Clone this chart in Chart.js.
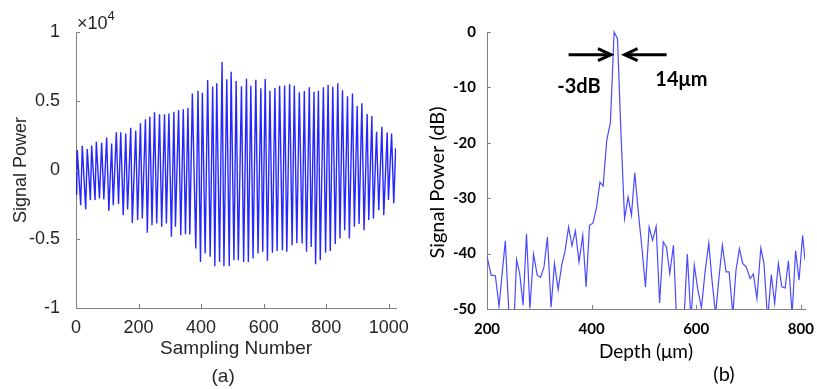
<!DOCTYPE html>
<html>
<head>
<meta charset="utf-8">
<script src="https://cdn.jsdelivr.net/npm/chart.js@4.4.1/dist/chart.umd.min.js"></script>
<style>
  body { margin: 0; background: #fff; }
  #wrap { position: relative; width: 817px; height: 389px; }
  canvas { position: absolute; top: 0; }
</style>
</head>
<body>
<div id="wrap">
  <canvas id="chartA" width="410" height="389" style="left:0"></canvas>
  <canvas id="chartB" width="407" height="389" style="left:410px"></canvas>
</div>
<script>
// (a) interferogram: upper and lower swing of each fringe, in units of 1e4
const peakSamples = [4, 20, 36, 50, 65, 82, 98, 114, 129, 143,
  159, 175, 191, 206, 222, 236, 251, 267, 283, 297,
  313, 328, 343, 358, 372, 390, 404, 421, 437, 450,
  467, 482, 496, 512, 529, 545, 559, 575, 591, 605,
  620, 636, 651, 667, 683, 698, 714, 730, 746, 761,
  775, 791, 806, 821, 837, 852, 868, 884, 899, 914,
  931, 946, 961, 978, 995, 1009, 1022];
const peakValues = [0.144, 0.176, 0.152, 0.178, 0.204, 0.197, 0.236, 0.192, 0.274, 0.274,
  0.265, 0.306, 0.285, 0.338, 0.367, 0.386, 0.418, 0.403, 0.403, 0.41,
  0.422, 0.435, 0.44, 0.451, 0.555, 0.575, 0.56, 0.652, 0.604, 0.628,
  0.783, 0.657, 0.712, 0.645, 0.606, 0.662, 0.611, 0.654, 0.592, 0.659,
  0.575, 0.594, 0.611, 0.613, 0.621, 0.611, 0.563, 0.572, 0.599, 0.567,
  0.575, 0.599, 0.618, 0.604, 0.628, 0.577, 0.534, 0.555, 0.463, 0.483,
  0.405, 0.391, 0.277, 0.314, 0.272, 0.265, 0.157];
const troughSamples = [2, 15, 31, 46, 61, 75, 89, 105, 119, 136,
  151, 165, 180, 197, 212, 228, 243, 258, 274, 289,
  305, 318, 335, 350, 364, 383, 398, 413, 429, 444,
  459, 473, 490, 505, 519, 536, 551, 566, 582, 597,
  612, 628, 643, 660, 674, 691, 706, 723, 737, 752,
  766, 781, 798, 813, 829, 844, 859, 874, 890, 905,
  921, 936, 951, 968, 984, 999, 1016];
const troughValues = [-0.182, -0.255, -0.286, -0.218, -0.218, -0.206, -0.213, -0.296, -0.255, -0.247,
  -0.327, -0.286, -0.383, -0.363, -0.351, -0.455, -0.40, -0.388, -0.412, -0.388,
  -0.484, -0.412, -0.472, -0.465, -0.467, -0.569, -0.666, -0.605, -0.629, -0.697,
  -0.666, -0.697, -0.697, -0.654, -0.654, -0.666, -0.666, -0.642, -0.605, -0.593,
  -0.658, -0.60, -0.586, -0.581, -0.593, -0.545, -0.528, -0.533, -0.593, -0.557,
  -0.683, -0.654, -0.60, -0.586, -0.537, -0.496, -0.436, -0.496, -0.412, -0.392,
  -0.436, -0.363, -0.351, -0.291, -0.327, -0.218, -0.242];
const ticksAX = [0, 200, 400, 600, 800, 1000];
const ticksAY = [-1, -0.5, 0, 0.5, 1];

// (b) depth profile
const depth = [200, 208, 216, 223, 235, 243, 251, 256.5, 262.5, 269,
  275.5, 282, 289, 296, 302.5, 309, 315.5, 322.5, 329, 336,
  343, 349, 356, 362.5, 369, 376, 383, 389.5, 396, 402.5,
  409, 416, 422, 429, 436, 443, 449.5, 456, 463, 469.8,
  476.2, 482.5, 489, 496, 503, 510, 516.6, 523.4, 530, 537,
  543, 549.5, 556.4, 563, 570, 576.5, 583, 590, 596.3, 603,
  610, 617, 624, 630, 637, 643.6, 650, 657, 663, 670,
  676, 682.6, 689, 695.5, 703, 709.3, 716, 723.5, 729.5, 736.5,
  743.5, 750, 757, 763.6, 770, 776.3, 783.3, 790, 796.6, 803.4, 808];
const powerDb = [-40.5, -43.9, -44.0, -49.5, -37.7, -53, -54, -41.1, -43.6, -49.3,
  -36.4, -49.9, -40.1, -43.9, -44.3, -42.4, -37.0, -49.7, -41.8, -46.5,
  -42.0, -39.7, -35.2, -38.6, -35.9, -41.5, -36.7, -46.0, -34.9, -34.5,
  -31.9, -27.1, -27.8, -19.5, -16.3, 0, -1.2, -18, -33.7, -29.8,
  -33.1, -25.4, -32.2, -38.8, -46.0, -35.2, -37.6, -35.1, -48.9, -37.9,
  -38.8, -43.6, -38.5, -53, -55, -52, -40.1, -52, -42.1, -46.5,
  -49.8, -43.2, -38.1, -44.6, -51, -44.2, -38.5, -43.3, -43.3, -51,
  -43.0, -39.1, -41.8, -42.4, -44.5, -43.7, -48.1, -39.0, -41.7, -52,
  -43.8, -49.0, -41.8, -46.0, -46.2, -41.3, -51, -39.5, -44.8, -36.7, -41.2];
const ticksBX = [200, 400, 600, 800];
const ticksBY = [-50, -40, -30, -20, -10, 0];

const pointsA = peakSamples.map((s, i) => ({ x: s, y: peakValues[i] }))
  .concat(troughSamples.map((s, i) => ({ x: s, y: troughValues[i] })))
  .sort((p, q) => p.x - q.x);
const pointsB = depth.map((d, i) => ({ x: d, y: powerDb[i] }));

// small ticks pointing into the plot, like matlab
const innerTicks = {
  id: 'innerTicks',
  afterDatasetsDraw(chart) {
    const ctx = chart.ctx, a = chart.chartArea;
    const sx = chart.scales.x, sy = chart.scales.y;
    ctx.save();
    ctx.strokeStyle = '#808080';
    ctx.lineWidth = 1;
    sx.ticks.forEach(t => {
      const px = Math.round(sx.getPixelForValue(t.value)) + 0.5;
      ctx.beginPath(); ctx.moveTo(px, a.bottom); ctx.lineTo(px, a.bottom - 4); ctx.stroke();
    });
    sy.ticks.forEach(t => {
      const py = Math.round(sy.getPixelForValue(t.value)) + 0.5;
      ctx.beginPath(); ctx.moveTo(a.left, py); ctx.lineTo(a.left + 4, py); ctx.stroke();
    });
    ctx.restore();
  }
};

const textA = {
  id: 'textA',
  afterDraw(chart) {
    const ctx = chart.ctx, a = chart.chartArea;
    ctx.save();
    ctx.fillStyle = '#262626';
    ctx.textBaseline = 'alphabetic';
    ctx.textAlign = 'left';
    ctx.font = '18px "Liberation Sans", Arial, sans-serif';
    ctx.fillText('\u00d710', a.left + 1, 29);
    const w = ctx.measureText('\u00d710').width;
    ctx.font = '13px "Liberation Sans", Arial, sans-serif';
    ctx.fillText('4', a.left + 1 + w, 20);
    ctx.font = '19px "Liberation Sans", Arial, sans-serif';
    ctx.textAlign = 'center';
    ctx.textBaseline = 'middle';
    ctx.fillText('(a)', (a.left + a.right) / 2 - 13, 377);
    ctx.restore();
  }
};

const textB = {
  id: 'textB',
  afterDraw(chart) {
    const ctx = chart.ctx, a = chart.chartArea;
    const sx = chart.scales.x, sy = chart.scales.y;
    ctx.save();
    ctx.fillStyle = '#000';
    ctx.strokeStyle = '#000';
    // y title
    ctx.save();
    ctx.translate(27.5, 182.5);
    ctx.rotate(-Math.PI / 2);
    ctx.font = '20px Lato, sans-serif';
    ctx.textAlign = 'center';
    ctx.textBaseline = 'middle';
    ctx.fillText('Signal Power (dB)', 0, 0);
    ctx.restore();
    // panel label
    ctx.font = '20px Lato, sans-serif';
    ctx.textAlign = 'center';
    ctx.textBaseline = 'middle';
    ctx.fillText('(b)', (a.left + a.right) / 2 + 78, 375);
    // -3 dB width arrows
    const ay = sy.getPixelForValue(-4.1);
    const arrow = (from, to) => {
      const x0 = sx.getPixelForValue(from), x1 = sx.getPixelForValue(to);
      const dir = Math.sign(x1 - x0);
      ctx.lineWidth = 3;
      ctx.lineCap = 'butt';
      ctx.beginPath(); ctx.moveTo(x0, ay); ctx.lineTo(x1 - dir * 2, ay); ctx.stroke();
      ctx.beginPath();
      ctx.moveTo(x1 - dir * 13, ay - 6); ctx.lineTo(x1, ay); ctx.lineTo(x1 - dir * 13, ay + 6);
      ctx.stroke();
    };
    arrow(356, 437);
    arrow(543.5, 463);
    ctx.font = 'bold 20px Lato, sans-serif';
    ctx.fillText('-3dB', sx.getPixelForValue(375.7), sy.getPixelForValue(-9.9));
    ctx.fillText('14\u03bcm', sx.getPixelForValue(571.6), sy.getPixelForValue(-8.5));
    ctx.restore();
  }
};

new Chart(document.getElementById('chartA'), {
  type: 'line',
  data: {
    datasets: [{
      data: pointsA,
      borderColor: 'rgba(0,0,255,0.85)',
      borderWidth: 1.4,
      pointRadius: 0,
      tension: 0,
    }],
  },
  options: {
    responsive: false,
    animation: false,
    events: [],
    layout: { padding: { left: 0, right: 9, top: 32, bottom: 0 } },
    plugins: { legend: { display: false }, tooltip: { enabled: false } },
    scales: {
      x: {
        type: 'linear',
        min: 0,
        max: 1024,
        afterFit: s => { s.height = 81; },
        afterBuildTicks: s => { s.ticks = ticksAX.map(v => ({ value: v })); },
        grid: { display: false },
        border: { display: true, color: '#808080', width: 1 },
        ticks: {
          padding: 1,
          color: '#262626',
          font: { family: '"Liberation Sans", Arial, sans-serif', size: 18 },
          maxRotation: 0,
          callback: v => String(v),
        },
        title: {
          display: true,
          text: 'Sampling Number',
          color: '#262626',
          font: { family: '"Liberation Sans", Arial, sans-serif', size: 19 },
          padding: { top: 0, bottom: 29 },
        },
      },
      y: {
        min: -1,
        max: 1,
        afterFit: s => { s.width = 76; },
        afterBuildTicks: s => { s.ticks = ticksAY.map(v => ({ value: v })); },
        grid: { display: false },
        border: { display: true, color: '#808080', width: 1 },
        ticks: {
          padding: 8,
          color: '#262626',
          font: { family: '"Liberation Sans", Arial, sans-serif', size: 18 },
          callback: v => String(v),
        },
        title: {
          display: true,
          text: 'Signal Power',
          color: '#262626',
          font: { family: '"Liberation Sans", Arial, sans-serif', size: 18 },
          padding: { top: 10.7, bottom: 0 },
        },
      },
    },
  },
  plugins: [innerTicks, textA],
});

new Chart(document.getElementById('chartB'), {
  type: 'line',
  data: {
    datasets: [{
      data: pointsB,
      borderColor: '#4a4aff',
      borderWidth: 1.2,
      pointRadius: 0,
      tension: 0,
      clip: { left: 0, top: 4, right: 0, bottom: 0 },
    }],
  },
  options: {
    responsive: false,
    animation: false,
    events: [],
    layout: { padding: { left: 0, right: 9, top: 32, bottom: 0 } },
    plugins: { legend: { display: false }, tooltip: { enabled: false } },
    scales: {
      x: {
        type: 'linear',
        min: 200,
        max: 808,
        afterFit: s => { s.height = 80; },
        afterBuildTicks: s => { s.ticks = ticksBX.map(v => ({ value: v })); },
        grid: { display: false },
        border: { display: true, color: '#808080', width: 1 },
        ticks: {
          padding: 3,
          color: '#000',
          font: { family: 'Lato, sans-serif', size: 15, weight: 'bold' },
          maxRotation: 0,
          callback: v => String(v),
        },
        title: {
          display: true,
          text: 'Depth (\u03bcm)',
          color: '#000',
          font: { family: 'Lato, sans-serif', size: 19 },
          padding: { top: 0, bottom: 26 },
        },
      },
      y: {
        min: -50,
        max: 0,
        afterFit: s => { s.width = 77; },
        afterBuildTicks: s => { s.ticks = ticksBY.map(v => ({ value: v })); },
        grid: { display: false },
        border: { display: true, color: '#808080', width: 1 },
        ticks: {
          padding: 3,
          color: '#000',
          font: { family: 'Lato, sans-serif', size: 15, weight: 'bold' },
          callback: v => String(v),
        },
      },
    },
  },
  plugins: [innerTicks, textB],
});
</script>
</body>
</html>
